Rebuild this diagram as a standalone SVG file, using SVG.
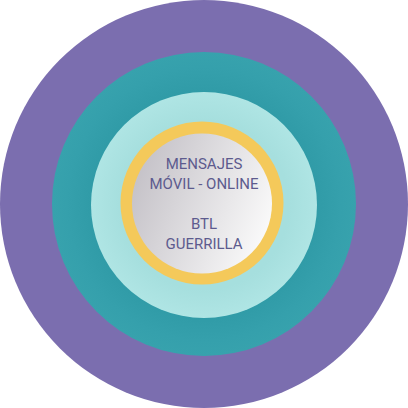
<svg xmlns="http://www.w3.org/2000/svg" width="408" height="408" viewBox="0 0 408 408">
<defs>
<linearGradient id="core" x1="0" y1="0.3" x2="1" y2="0.7">
<stop offset="0" stop-color="#c4c1c7"/>
<stop offset="1" stop-color="#fbfbfb"/>
</linearGradient>
<radialGradient id="tealShade" cx="0.5" cy="0.5" r="0.5">
<stop offset="0.7" stop-color="#2f9aa6"/>
<stop offset="0.9" stop-color="#35a0ac"/>
<stop offset="1" stop-color="#37a2ad"/>
</radialGradient>
<radialGradient id="cyanShade" cx="0.5" cy="0.5" r="0.5">
<stop offset="0.75" stop-color="#a6dfde"/>
<stop offset="1" stop-color="#afe5e4"/>
</radialGradient>
<style>
.lbl{font-family:Roboto,"Liberation Sans",sans-serif;font-size:15px;fill:#5d5b8e;text-anchor:middle}
</style>
</defs>
<g id="ring-outer"><circle cx="204" cy="204" r="204" fill="#7b6eaf"/></g>
<g id="ring-teal"><circle cx="204" cy="204" r="152" fill="url(#tealShade)"/></g>
<g id="ring-cyan"><circle cx="204" cy="205" r="113" fill="url(#cyanShade)"/></g>
<g id="ring-yellow"><circle cx="202" cy="203" r="81.5" fill="#f4c95a"/></g>
<g id="core-node">
<circle cx="202" cy="203.5" r="70" fill="url(#core)"/>
<text class="lbl" x="204" y="169">MENSAJES</text>
<text class="lbl" x="204" y="189">MÓVIL - ONLINE</text>
<text class="lbl" x="204" y="229">BTL</text>
<text class="lbl" x="204" y="249">GUERRILLA</text>
</g>
<g id="connectors"/>
</svg>
